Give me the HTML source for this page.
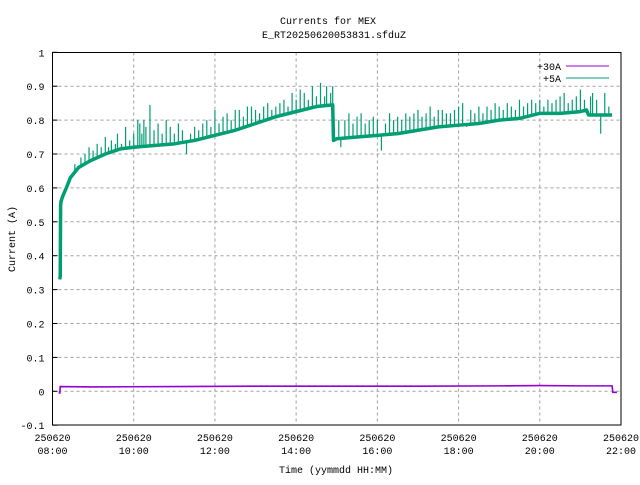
<!DOCTYPE html>
<html><head><meta charset="utf-8"><style>
html,body{margin:0;padding:0;background:#fff;}
svg text{font-family:"Liberation Mono","DejaVu Sans Mono",monospace;font-size:10px;fill:#000;}
</style></head><body>
<svg id="chart" width="640" height="480" xmlns="http://www.w3.org/2000/svg">
<rect width="640" height="480" fill="#fff"/>
<text x="328" y="24" text-anchor="middle">Currents for MEX</text>
<text x="334" y="38" text-anchor="middle">E_RT20250620053831.sfduZ</text>
<g id="grid"></g>
<g id="series"></g>
<g id="axes"></g>
<text transform="translate(15,239) rotate(-90)" text-anchor="middle">Current (A)</text>
<text x="336" y="473" text-anchor="middle">Time (yymmdd HH:MM)</text>
<g>
<text x="561" y="70" text-anchor="end">+30A</text>
<line x1="566" y1="66" x2="609" y2="66" stroke="#9400d3" stroke-width="1"/>
<text x="561" y="82" text-anchor="end">+5A</text>
<line x1="566" y1="78" x2="609" y2="78" stroke="#009e73" stroke-width="1"/>
</g>
</svg>
<script>
const yTicks=[-0.1,0,0.1,0.2,0.3,0.4,0.5,0.6,0.7,0.8,0.9,1];
const yTickLabels=["-0.1","0","0.1","0.2","0.3","0.4","0.5","0.6","0.7","0.8","0.9","1"];
const xTicks=[8,10,12,14,16,18,20,22];
const xTickLabels=["08:00","10:00","12:00","14:00","16:00","18:00","20:00","22:00"];
const greenTimes=[8.18,8.19,8.20,8.21,8.25,8.34,8.44,8.64,8.93,9.30,9.67,10.0,10.5,11.0,11.5,12.0,12.5,13.0,13.5,14.0,14.5,14.9,14.92,15.0,15.5,16.0,16.5,17.0,17.5,18.0,18.5,19.0,19.5,20.0,20.5,21.0,21.15,21.2,21.5,21.78];
const greenValues=[0.33,0.34,0.55,0.56,0.575,0.60,0.63,0.66,0.68,0.70,0.715,0.72,0.725,0.73,0.74,0.755,0.77,0.79,0.81,0.825,0.84,0.845,0.74,0.745,0.75,0.755,0.76,0.77,0.78,0.785,0.79,0.80,0.805,0.82,0.82,0.825,0.83,0.815,0.815,0.815];
const spikeTimes=[8.55,8.62,8.7,8.8,8.9,9.0,9.1,9.2,9.3,9.38,9.45,9.55,9.6,9.7,9.8,9.9,10.0,10.1,10.15,10.2,10.25,10.3,10.4,10.5,10.6,10.7,10.8,10.9,11.0,11.1,11.2,11.3,11.4,11.5,11.6,11.7,11.8,11.9,12.0,12.1,12.2,12.3,12.4,12.5,12.6,12.7,12.8,12.9,13.0,13.1,13.2,13.3,13.4,13.5,13.6,13.7,13.8,13.9,14.0,14.1,14.2,14.3,14.4,14.5,14.6,14.7,14.75,14.85,14.9,15.05,15.1,15.2,15.3,15.4,15.5,15.6,15.7,15.8,15.9,16.0,16.1,16.2,16.3,16.4,16.5,16.6,16.7,16.8,16.9,17.0,17.1,17.2,17.3,17.4,17.5,17.6,17.7,17.8,17.9,18.0,18.1,18.2,18.3,18.4,18.5,18.6,18.7,18.8,18.9,19.0,19.1,19.2,19.3,19.4,19.5,19.6,19.7,19.8,19.9,20.0,20.1,20.2,20.3,20.4,20.5,20.6,20.7,20.8,20.9,21.0,21.1,21.25,21.3,21.4,21.5,21.6,21.7];
const spikeValues=[0.67,0.65,0.69,0.70,0.72,0.71,0.73,0.72,0.75,0.72,0.74,0.73,0.76,0.73,0.78,0.74,0.76,0.80,0.79,0.76,0.80,0.78,0.845,0.77,0.79,0.76,0.80,0.78,0.76,0.79,0.77,0.70,0.76,0.78,0.77,0.79,0.80,0.78,0.83,0.79,0.81,0.82,0.80,0.83,0.83,0.81,0.84,0.84,0.83,0.82,0.84,0.85,0.83,0.84,0.85,0.86,0.84,0.88,0.86,0.89,0.88,0.86,0.90,0.87,0.91,0.87,0.90,0.88,0.90,0.80,0.72,0.80,0.82,0.79,0.81,0.82,0.79,0.80,0.81,0.80,0.71,0.79,0.82,0.80,0.81,0.80,0.82,0.81,0.82,0.83,0.81,0.82,0.84,0.81,0.83,0.83,0.82,0.82,0.83,0.84,0.85,0.78,0.83,0.82,0.84,0.82,0.84,0.83,0.85,0.84,0.83,0.85,0.84,0.83,0.86,0.84,0.85,0.86,0.85,0.86,0.84,0.86,0.85,0.86,0.87,0.88,0.85,0.86,0.87,0.89,0.86,0.87,0.88,0.86,0.76,0.88,0.84];
const purpleTimes=[8.15,8.18,8.19,9.0,11.0,13.0,15.0,17.0,19.0,20.0,21.0,21.78,21.8,21.9];
const purpleValues=[-0.005,-0.005,0.014,0.013,0.014,0.015,0.015,0.015,0.016,0.017,0.016,0.016,-0.003,-0.003];

const X0=52.5,X1=621,Y0=391.3,PER=33.9;
const xs=t=>X0+(t-8)/14*(X1-X0);
const ys=v=>Y0-v/0.1*PER;
const NS="http://www.w3.org/2000/svg";
function mk(tag,parent){const e=document.createElementNS(NS,tag);parent.appendChild(e);return e;}
const grid=document.getElementById('grid'),axes=document.getElementById('axes'),series=document.getElementById('series');
yTicks.forEach((v,i)=>{
  if(i>0&&i<yTicks.length-1){const g=mk('line',grid);
  
  
  g.setAttribute('x1',X0);g.setAttribute('x2',X1);g.setAttribute('y1',ys(v));g.setAttribute('y2',ys(v));g.setAttribute('stroke','#a0a0a0');g.setAttribute('stroke-dasharray','3,3');}
  const t=mk('text',axes);
  
  
  t.setAttribute('x',X0-8);t.setAttribute('y',ys(v)+4);t.setAttribute('text-anchor','end');t.textContent=yTickLabels[i];
  const tk=mk('line',axes);
  
  
  tk.setAttribute('x1',X0);tk.setAttribute('x2',X0+5);tk.setAttribute('y1',ys(v));tk.setAttribute('y2',ys(v));tk.setAttribute('stroke','#000');
});
xTicks.forEach((h,i)=>{
  if(i>0&&i<xTicks.length-1){const g=mk('line',grid);
  
  
  g.setAttribute('x1',xs(h));g.setAttribute('x2',xs(h));g.setAttribute('y1',52.5);g.setAttribute('y2',425);g.setAttribute('stroke','#a0a0a0');g.setAttribute('stroke-dasharray','3,3');}
  const t=mk('text',axes);
  
  
  t.setAttribute('x',xs(h));t.setAttribute('y',441);t.setAttribute('text-anchor','middle');
  const a=mk('tspan',t);a.setAttribute('x',xs(h));a.textContent='250620';
  const b=mk('tspan',t);b.setAttribute('x',xs(h));b.setAttribute('dy','13');b.textContent=xTickLabels[i];
});
const fr=mk('rect',axes);


fr.setAttribute('x',X0);fr.setAttribute('y',52.5);fr.setAttribute('width',X1-X0);fr.setAttribute('height',425-52.5);fr.setAttribute('fill','none');fr.setAttribute('stroke','#000');

const pp=mk('polyline',series);


pp.setAttribute('points',purpleTimes.map((t,i)=>xs(t)+','+ys(purpleValues[i])).join(' '));
pp.setAttribute('fill','none');pp.setAttribute('stroke','#9400d3');pp.setAttribute('stroke-width','1.6');

function baseAt(t){for(let i=1;i<greenTimes.length;i++){if(t<=greenTimes[i]){const a=greenTimes[i-1],b=greenTimes[i];return greenValues[i-1]+(greenValues[i]-greenValues[i-1])*(t-a)/(b-a);}}return greenValues[greenValues.length-1];}
spikeTimes.forEach((t,i)=>{
  const l=mk('line',series);
  
  
  l.setAttribute('x1',xs(t));l.setAttribute('x2',xs(t));l.setAttribute('y1',ys(baseAt(t)));l.setAttribute('y2',ys(spikeValues[i]));l.setAttribute('stroke','#009e73');l.setAttribute('stroke-width','1.2');
});
const gp=mk('polyline',series);


gp.setAttribute('points',greenTimes.map((t,i)=>xs(t)+','+ys(greenValues[i])).join(' '));
gp.setAttribute('fill','none');gp.setAttribute('stroke','#009e73');gp.setAttribute('stroke-width','3.5');gp.setAttribute('stroke-linejoin','round');
</script>
</body></html>
